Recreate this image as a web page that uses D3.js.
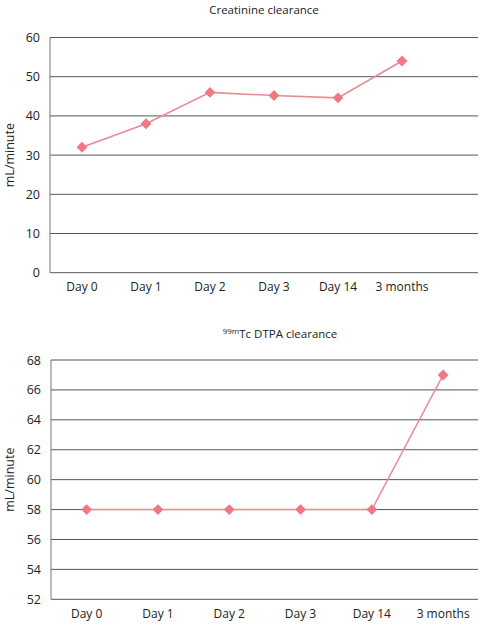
<!DOCTYPE html>
<html>
<head>
<meta charset="utf-8">
<script src="https://cdn.jsdelivr.net/npm/d3@7"></script>
<style>
  body { margin: 0; background: #fff; }
  svg text { font-family: "Open Sans", "DejaVu Sans", sans-serif; fill: #222; }
</style>
</head>
<body>
<svg id="chart" width="480" height="632"></svg>
<script>
// data
const timepoints = ['Day 0', 'Day 1', 'Day 2', 'Day 3', 'Day 14', '3 months'];
const creatinine = [32, 38, 46, 45.2, 44.6, 54];
const dtpa = [58, 58, 58, 58, 58, 67];
const creatinineTicks = [0, 10, 20, 30, 40, 50, 60];
const dtpaTicks = [52, 54, 56, 58, 60, 62, 64, 66, 68];

const svg = d3.select('#chart');
const lineColor = '#ec8a93';
const markColor = '#f07882';

function drawPanel(opts) {
    const g = svg.append('g');

    const x = d3.scaleBand()
        .domain(timepoints)
        .range([opts.left, opts.left + opts.step * timepoints.length]);

    const y = d3.scaleLinear()
        .domain(opts.domain)
        .range([opts.bottom, opts.top]);

    // horizontal grid
    g.selectAll('.grid')
        .data(opts.ticks)
        .enter().append('line')
        .attr('x1', opts.left)
        .attr('x2', opts.right)
        .attr('y1', d => y(d))
        .attr('y2', d => y(d))
        .attr('stroke', '#555')
        .attr('stroke-width', 1);

    // left axis line
    g.append('line')
        .attr('x1', opts.left).attr('x2', opts.left)
        .attr('y1', opts.top).attr('y2', opts.bottom)
        .attr('stroke', '#777')
        .attr('stroke-width', 1);

    const yAxis = g.append('g')
        .attr('transform', `translate(${opts.left},0)`)
        .call(d3.axisLeft(y).tickValues(opts.ticks).tickSize(0).tickPadding(10));
    yAxis.select('.domain').remove();
    yAxis.selectAll('text').style('font-size', '12.5px').style('font-family', '"Open Sans", sans-serif').attr('fill', '#222');

    const xAxis = g.append('g')
        .attr('transform', `translate(0,${opts.bottom})`)
        .call(d3.axisBottom(x).tickSize(0).tickPadding(10));
    xAxis.select('.domain').remove();
    xAxis.selectAll('text').style('font-size', '12px').style('font-family', '"Open Sans", sans-serif').attr('fill', '#222');

    const cx = d => x(d) + x.bandwidth() / 2;

    g.append('path')
        .datum(opts.values)
        .attr('fill', 'none')
        .attr('stroke', lineColor)
        .attr('stroke-width', 1.5)
        .attr('d', d3.line()
            .x((d, i) => cx(timepoints[i]))
            .y(d => y(d)));

    g.selectAll('.mark')
        .data(opts.values)
        .enter().append('path')
        .attr('d', d3.symbol(d3.symbolDiamond2, 75))
        .attr('transform', (d, i) => `translate(${cx(timepoints[i])},${y(d)})`)
        .attr('fill', markColor);

    // y label
    g.append('text')
        .attr('transform', `translate(14,${(opts.top + opts.bottom) / 2}) rotate(-90)`)
        .attr('text-anchor', 'middle')
        .style('font-size', '12.5px')
        .text('mL/minute');

    return g;
}

const panelA = drawPanel({
    left: 50, right: 478, top: 37.5, bottom: 272.7, step: 64,
    domain: [0, 60], ticks: creatinineTicks, values: creatinine
});
panelA.append('text')
    .attr('x', 264).attr('y', 14)
    .attr('text-anchor', 'middle')
    .style('font-size', '11.5px')
    .text('Creatinine clearance');

const panelB = drawPanel({
    left: 51, right: 478, top: 360, bottom: 599.3, step: 71.3,
    domain: [52, 68], ticks: dtpaTicks, values: dtpa
});
const t2 = panelB.append('text')
    .attr('x', 280).attr('y', 338)
    .attr('text-anchor', 'middle')
    .style('font-size', '11.5px');
t2.append('tspan').attr('dy', '-4').style('font-size', '8px').text('99m');
t2.append('tspan').attr('dy', '4').text('Tc DTPA clearance');
</script>
</body>
</html>
